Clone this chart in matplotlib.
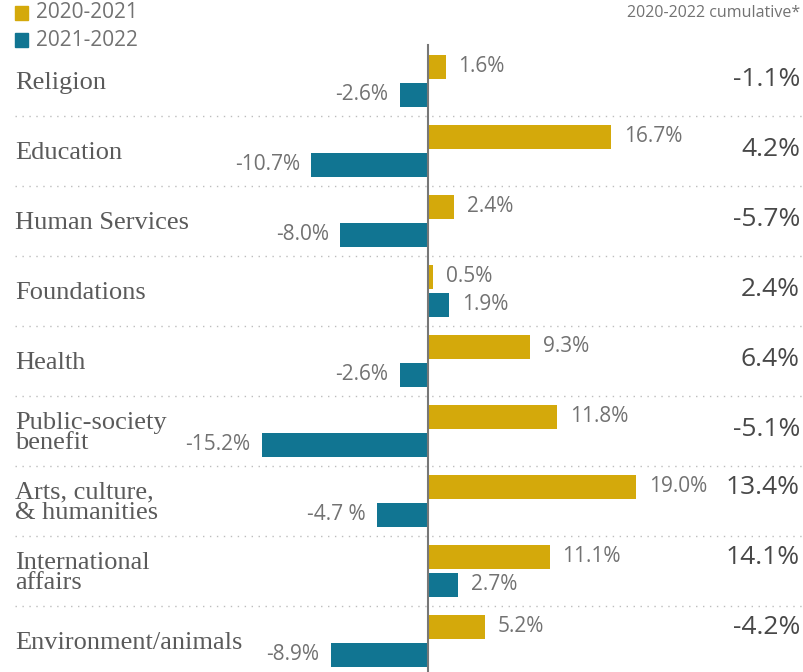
import matplotlib.pyplot as plt

# data
categories = ["Religion", "Education", "Human Services", "Foundations", "Health",
              "Public-society\nbenefit", "Arts, culture,\n& humanities",
              "International\naffairs", "Environment/animals"]
change_2020_2021 = [1.6, 16.7, 2.4, 0.5, 9.3, 11.8, 19.0, 11.1, 5.2]
change_2021_2022 = [-2.6, -10.7, -8.0, 1.9, -2.6, -15.2, -4.7, 2.7, -8.9]
labels_2021_2022 = ["-2.6%", "-10.7%", "-8.0%", "1.9%", "-2.6%", "-15.2%",
                    "-4.7 %", "2.7%", "-8.9%"]
cumulative = ["-1.1%", "4.2%", "-5.7%", "2.4%", "6.4%", "-5.1%",
              "13.4%", "14.1%", "-4.2%"]

gold = "#D4A90B"
teal = "#117592"
txt = "#727272"
dark = "#484848"
sans = ["Open Sans", "DejaVu Sans"]

fig = plt.figure(figsize=(8.04, 6.72), dpi=100)
ax = fig.add_axes([0, 0, 1, 1])
# x in percent, y in pixel-like units (rows 70 apart)
px = 10.95
ax.set_xlim(-428 / px, (804 - 428) / px)
ax.set_ylim(672, 0)
ax.axis("off")

row_h = 70
top = 81
bar_h = 24

for i, cat in enumerate(categories):
    yc = top + row_h * i
    y1, y2 = yc - 14, yc + 14
    v1, v2 = change_2020_2021[i], change_2021_2022[i]
    ax.barh(y1, v1, height=bar_h, color=gold, zorder=2)
    ax.barh(y2, v2, height=bar_h, color=teal, zorder=2)

    for y, v, lab in [(y1, v1, f"{v1:.1f}%"), (y2, v2, labels_2021_2022[i])]:
        if v >= 0:
            ax.text(v + 13 / px, y, lab, ha="left", va="center",
                    fontsize=15, color=txt, family=sans)
        else:
            ax.text(v - 11 / px, y, lab, ha="right", va="center",
                    fontsize=15, color=txt, family=sans)

    # category label
    ax.text(15 / px - 428 / px, yc + 2, cat, ha="left", va="center", fontsize=19,
            color="#5a5a5a", family=["Liberation Serif", "DejaVu Serif"],
            linespacing=0.92)

    # cumulative value
    yc_cum = y1 + 1 if i >= 6 else yc - 1
    ax.text(800 / px - 428 / px, yc_cum, cumulative[i], ha="right", va="center",
            fontsize=19, color=dark, family=sans, fontweight="medium")

    # dotted separator
    if i < len(categories) - 1:
        ax.plot([15 / px - 428 / px, 804 / px - 428 / px], [yc + 35, yc + 35],
                color="#bdbdbd", lw=1, linestyle=(0, (1, 4)), zorder=1)

# zero axis
ax.plot([0, 0], [45, 672], color="#777777", lw=1.5, zorder=3)

# legend
for j, (c, name) in enumerate([(gold, "2020-2021"), (teal, "2021-2022")]):
    ax.add_patch(plt.Rectangle((15 / px - 428 / px, 6 + 27 * j), 13 / px, 14,
                               color=c, clip_on=False))
    ax.text(36 / px - 428 / px, 13 + 27 * j, name, ha="left", va="center",
            fontsize=15, color=txt, family=sans)

ax.text(800 / px - 428 / px, 13, "2020-2022 cumulative*", ha="right",
        va="center", fontsize=11.5, color=txt, family=sans)

fig.savefig("out.png", dpi=100)
